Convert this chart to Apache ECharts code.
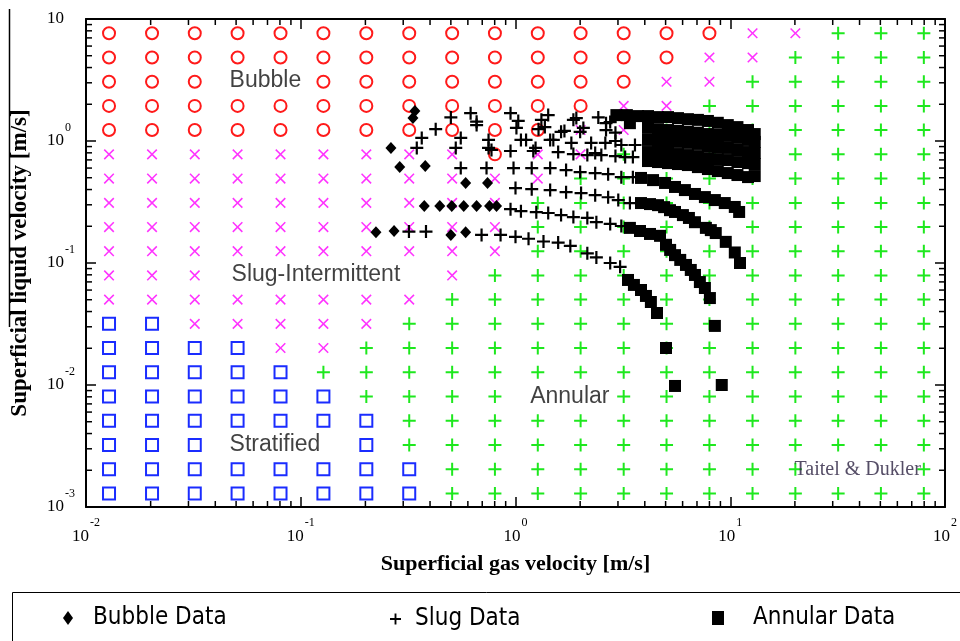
<!DOCTYPE html>
<html>
<head>
<meta charset="utf-8">
<title>Taitel &amp; Dukler flow regime map</title>
<script src="https://cdn.jsdelivr.net/npm/echarts@6/dist/echarts.min.js"></script>
<style>
  html, body { margin: 0; padding: 0; background: #fff; }
  #main { width: 960px; height: 641px; }
</style>
</head>
<body>
<div id="main"></div>
<script>
var chartDom = document.getElementById('main');
var myChart = echarts.init(chartDom);

// grid of the regime map (columns = gas velocity, rows = liquid velocity, top row first)
var gasVel = [0.0128, 0.0203, 0.0321, 0.0508, 0.0805, 0.1275, 0.202, 0.320, 0.507, 0.802,
              1.27, 2.01, 3.19, 5.05, 8.00, 12.7, 20.1, 31.8, 50.3, 79.7];
var liqVel = [7.64, 4.84, 3.06, 1.94, 1.23, 0.777, 0.492, 0.311, 0.197, 0.125,
              0.0791, 0.0501, 0.0317, 0.0201, 0.0127, 0.00804, 0.00509, 0.00322, 0.00204, 0.00129];
// O bubble, X slug-intermittent, + annular, S stratified, . hidden under a label
var regimeRows = [
  'OOOOOOOOOOOOOOOXX+++',
  'OOOOOOOOOOOOOOXX++++',
  'OOO..OOOOOOOOXX+++++',
  'OOOOOOOOOOOOXX++++++',
  'OOOOOOOOOOOXX+++++++',
  'XXXXXXXXXOXX++++++++',
  'XXXXXXXXXXX+++++++++',
  'XXXXXXXXXX++++++++++',
  'XXXXXXXXXX++++++++++',
  'XXXXXXXXXX++++++++++',
  'XXX.....X+++++++++++',
  'XXXXXXXX++++++++++++',
  'SSXXXXX+++++++++++++',
  'SSSSXX++++++++++++++',
  'SSSSS+++++++++++++++',
  'SSSSSS++++..++++++++',
  'SSSSSSS+++++++++++++',
  'SSS...S+++++++++++++',
  'SSSSSSSS+++++++++..+',
  'SSSSSSSS++++++++++++'
];

var bubbleData = [
  [0.340, 1.76], [0.333, 1.54], [0.263, 0.877], [0.289, 0.612], [0.380, 0.624],
  [0.586, 0.453], [0.741, 0.453], [0.376, 0.293], [0.444, 0.293], [0.505, 0.293],
  [0.574, 0.293], [0.659, 0.293], [0.757, 0.293], [0.816, 0.293], [0.224, 0.179],
  [0.272, 0.183], [0.500, 0.170], [0.586, 0.179]
];

var slugData = [
  [0.319, 0.181], [0.383, 0.181], [0.695, 0.170], [0.852, 0.170], [1.00, 0.164], [1.15, 0.158],
  [1.35, 0.150], [1.58, 0.147], [1.80, 0.138], [2.16, 0.120], [2.38, 0.111], [2.76, 0.100], [3.07, 0.093],
  [0.948, 0.276], [1.06, 0.266], [1.25, 0.261], [1.42, 0.257], [1.63, 0.247], [1.86, 0.238],
  [2.16, 0.234], [2.38, 0.216], [2.76, 0.209], [3.11, 0.201],
  [1.00, 0.411], [1.19, 0.403], [1.45, 0.396], [1.72, 0.381], [2.02, 0.374], [2.35, 0.360],
  [2.70, 0.346], [3.01, 0.328], [3.41, 0.310],
  [0.556, 0.600], [0.733, 0.600], [0.979, 0.600], [1.19, 0.600], [1.45, 0.600], [1.72, 0.578],
  [2.00, 0.556], [2.35, 0.545], [2.70, 0.535], [3.11, 0.505], [3.52, 0.505],
  [0.347, 0.877], [0.527, 0.877], [0.773, 0.844], [0.948, 0.828], [1.21, 0.828], [1.58, 0.812],
  [1.86, 0.782], [2.16, 0.767], [2.51, 0.767], [2.92, 0.752], [3.24, 0.738], [3.52, 0.738],
  [0.366, 1.06], [0.556, 1.06], [0.749, 1.02], [1.06, 1.02], [1.45, 1.02], [1.82, 0.965],
  [2.25, 0.965], [2.62, 0.965], [3.11, 0.927], [3.60, 0.927],
  [0.425, 1.25], [0.659, 1.35], [1.01, 1.28], [1.28, 1.25], [1.63, 1.19], [2.00, 1.19],
  [2.64, 1.23], [2.92, 1.17],
  [0.500, 1.56], [0.618, 1.69], [0.659, 1.44], [0.948, 1.69], [1.03, 1.46], [1.32, 1.49],
  [1.42, 1.63], [1.86, 1.49], [1.92, 1.54], [2.43, 1.56], [2.64, 1.40], [2.76, 1.43],
  [0.749, 0.877], [1.12, 1.02], [1.24, 0.877], [1.37, 1.30], [1.50, 1.02], [1.69, 1.21],
  [2.07, 1.28], [2.35, 0.797], [2.92, 1.00]
];

var annularData = [
  // lowest band
  [3.34, 0.0726], [3.56, 0.0661], [3.84, 0.0601], [4.05, 0.0537], [4.27, 0.0479], [4.56, 0.0389],
  // second band
  [3.41, 0.194], [3.80, 0.183], [4.23, 0.173], [4.71, 0.167], [5.02, 0.141], [5.25, 0.128],
  [5.53, 0.116], [5.85, 0.106], [6.22, 0.0964], [6.55, 0.0877], [6.85, 0.0798], [7.22, 0.0698],
  [7.62, 0.0624], [8.04, 0.0516],
  // third band
  [3.84, 0.310], [4.23, 0.304], [4.61, 0.298], [4.92, 0.287], [5.24, 0.271], [5.53, 0.262],
  [6.02, 0.247], [6.42, 0.234], [6.85, 0.216], [7.70, 0.194], [8.12, 0.186], [8.56, 0.176],
  [9.53, 0.149], [10.5, 0.122], [11.1, 0.100],
  // fourth band
  [3.84, 0.498], [4.37, 0.478], [4.97, 0.453], [5.53, 0.420], [6.15, 0.396], [6.85, 0.368],
  [7.62, 0.347], [8.48, 0.328], [9.43, 0.310], [10.5, 0.288], [11.0, 0.262],
  // dense upper cluster
  [2.95, 1.63], [3.30, 1.63], [3.41, 1.40],
  [3.72, 1.60], [4.14, 1.60], [4.61, 1.57], [5.13, 1.57], [5.71, 1.54], [6.35, 1.51], [7.07, 1.49],
  [7.87, 1.46], [8.75, 1.41], [9.74, 1.35], [10.8, 1.30], [12.1, 1.23], [13.0, 1.14],
  [4.14, 1.28], [4.61, 1.25], [5.13, 1.23], [5.71, 1.21], [6.35, 1.19], [7.07, 1.17],
  [7.87, 1.14], [8.75, 1.12], [9.74, 1.10], [10.8, 1.06], [12.1, 1.02], [13.0, 0.983],
  [4.14, 1.02], [4.61, 1.00], [5.13, 1.00], [5.71, 0.983], [6.35, 0.965], [7.07, 0.946],
  [7.87, 0.910], [8.75, 0.893], [9.74, 0.877], [10.8, 0.844], [12.1, 0.812], [13.0, 0.797],
  [4.14, 0.812], [4.61, 0.812], [5.13, 0.797], [5.71, 0.782], [6.35, 0.767], [7.07, 0.752],
  [7.87, 0.724], [8.75, 0.711], [9.74, 0.698], [10.8, 0.672], [12.1, 0.659], [13.0, 0.647],
  [4.14, 0.685], [4.61, 0.672], [5.13, 0.659], [5.71, 0.647], [6.35, 0.635], [7.07, 0.611],
  [7.87, 0.589], [8.75, 0.567], [9.74, 0.546], [10.8, 0.526], [12.1, 0.506], [13.0, 0.516],
  // scattered points below
  [8.48, 0.0305], [5.02, 0.0201], [5.53, 0.00982], [9.13, 0.0100]
];

var regionLabels = [
  ['Bubble', 0.0466, 3.10],
  ['Slug-Intermittent', 0.0476, 0.0798],
  ['Stratified', 0.0466, 0.00322],
  ['Annular', 1.17, 0.00798]
];
var creditLabel = ['Taitel & Dukler', 19.9, 0.00201];

var minorX = [0.02, 0.03, 0.04, 0.05, 0.06, 0.07, 0.08, 0.09,
              0.2, 0.3, 0.4, 0.5, 0.6, 0.7, 0.8, 0.9,
              2, 3, 4, 5, 6, 7, 8, 9,
              20, 30, 40, 50, 60, 70, 80, 90];
var minorY = [0.002, 0.003, 0.004, 0.005, 0.006, 0.007, 0.008, 0.009,
              0.02, 0.03, 0.04, 0.05, 0.06, 0.07, 0.08, 0.09,
              0.2, 0.3, 0.4, 0.5, 0.6, 0.7, 0.8, 0.9,
              2, 3, 4, 5, 6, 7, 8, 9];

var SERIF = "'Liberation Serif', 'DejaVu Serif', serif";
var SANS = "'Liberation Sans', Arial, sans-serif";
var NARROW = "'DejaVu Sans Condensed', 'Liberation Sans', sans-serif";

var plusPath = 'path://M-1,-6.5H1V-1H6.5V1H1V6.5H-1V1H-6.5V-1H-1Z';
var boldPlus = 'path://M-1.1,-6.5H1.1V-1.1H6.5V1.1H1.1V6.5H-1.1V1.1H-6.5V-1.1H-1.1Z';
var thinCross = 'path://M-0.8,-7H0.8V-0.8H7V0.8H0.8V7H-0.8V0.8H-7V-0.8H-0.8Z';

var regime = { O: [], X: [], '+': [], S: [] };
for (var r = 0; r < regimeRows.length; r++) {
  for (var c = 0; c < gasVel.length; c++) {
    var code = regimeRows[r].charAt(c);
    if (regime[code]) regime[code].push([gasVel[c], liqVel[r]]);
  }
}

var minorTicks = [];
for (var i = 0; i < minorX.length; i++) minorTicks.push([minorX[i], 1, 0]);
for (var j = 0; j < minorY.length; j++) minorTicks.push([1, minorY[j], 1]);

function powLabel(v, hideOne) {
  var e = Math.round(Math.log10(v));
  if (hideOne && e === 1) return '{b|10}';
  return '{b|10}{s|' + e + '}';
}
var powRich = {
  b: { fontFamily: SERIF, fontSize: 17, color: '#000', padding: [11, 0, 11, 0] },
  s: { fontFamily: SERIF, fontSize: 12, color: '#000', padding: [0, 0, 27, 1] }
};

function renderMinorTick(params, api) {
  var cs = params.coordSys;
  var len = 6;
  var st = { stroke: '#000', lineWidth: 1.5 };
  if (api.value(2) === 0) {
    var x = api.coord([api.value(0), 1])[0];
    return { type: 'group', children: [
      { type: 'line', shape: { x1: x, y1: cs.y + cs.height, x2: x, y2: cs.y + cs.height - len }, style: st },
      { type: 'line', shape: { x1: x, y1: cs.y, x2: x, y2: cs.y + len }, style: st }
    ] };
  }
  var y = api.coord([1, api.value(1)])[1];
  return { type: 'group', children: [
    { type: 'line', shape: { x1: cs.x, y1: y, x2: cs.x + len, y2: y }, style: st },
    { type: 'line', shape: { x1: cs.x + cs.width, y1: y, x2: cs.x + cs.width - len, y2: y }, style: st }
  ] };
}

var frameLine = { lineStyle: { color: '#000', width: 2 } };
var majorTick = { inside: true, length: 10, lineStyle: { color: '#000', width: 1.5 } };
var legendText = { fontFamily: NARROW, fontSize: 24, color: '#000' };

var option = {
  backgroundColor: '#fff',
  animation: false,
  grid: { left: 86, right: 12, top: 19, bottom: 134 },
  xAxis: [
    {
      type: 'log', min: 0.01, max: 100, position: 'bottom',
      axisLine: frameLine, axisTick: majorTick, splitLine: { show: false },
      axisLabel: { margin: 10, formatter: function (v) { return powLabel(v, false); }, rich: powRich },
      name: 'Superficial gas velocity [m/s]', nameLocation: 'middle', nameGap: 46,
      nameTextStyle: { fontFamily: SERIF, fontWeight: 'bold', fontSize: 22, color: '#000' }
    },
    {
      type: 'log', min: 0.01, max: 100, position: 'top',
      axisLine: frameLine, axisTick: majorTick, splitLine: { show: false },
      axisLabel: { show: false }
    }
  ],
  yAxis: [
    {
      type: 'log', min: 0.001, max: 10, position: 'left',
      axisLine: frameLine, axisTick: majorTick, splitLine: { show: false },
      axisLabel: { margin: 39, align: 'left', formatter: function (v) { return powLabel(v, true); }, rich: powRich },
      name: 'Superficial liquid velocity [m/s]', nameLocation: 'middle', nameGap: 54,
      nameTextStyle: { fontFamily: SERIF, fontWeight: 'bold', fontSize: 23, color: '#000' }
    },
    {
      type: 'log', min: 0.001, max: 10, position: 'right',
      axisLine: frameLine, axisTick: majorTick, splitLine: { show: false },
      axisLabel: { show: false }
    }
  ],
  legend: [
    {
      data: [{ name: 'Bubble Data', icon: 'diamond' }], left: 63, top: 606, padding: 0,
      itemWidth: 10, itemHeight: 14,
      textStyle: Object.assign({ padding: [0, 0, 0, 15] }, legendText)
    },
    {
      data: ['Slug Data'], left: 390, top: 607, padding: 0, itemWidth: 11, itemHeight: 11,
      textStyle: Object.assign({ padding: [0, 0, 0, 9] }, legendText)
    },
    {
      data: [{ name: 'Annular Data', icon: 'rect' }], left: 712, top: 606, padding: 0,
      itemWidth: 12, itemHeight: 14,
      textStyle: Object.assign({ padding: [0, 0, 0, 24] }, legendText)
    }
  ],
  graphic: [
    { type: 'rect', shape: { x: 12.5, y: 592.5, width: 960, height: 60 },
      style: { fill: 'none', stroke: '#000', lineWidth: 1 }, silent: true },
    { type: 'line', shape: { x1: 9.5, y1: 9, x2: 9.5, y2: 327 },
      style: { stroke: '#000', lineWidth: 1.5 }, silent: true }
  ],
  series: [
    {
      name: 'Bubble regime', type: 'scatter', data: regime.O, silent: true, z: 2,
      symbol: 'circle', symbolSize: 12,
      itemStyle: { color: 'rgba(0,0,0,0)', borderColor: '#ff1a1a', borderWidth: 2, opacity: 1 }
    },
    {
      name: 'Slug regime', type: 'scatter', data: regime.X, silent: true, z: 2,
      symbol: thinCross, symbolSize: 13.5, symbolRotate: 45,
      itemStyle: { color: '#ff33ff', opacity: 1 }
    },
    {
      name: 'Annular regime', type: 'scatter', data: regime['+'], silent: true, z: 2,
      symbol: plusPath, symbolSize: 13,
      itemStyle: { color: '#1ee81e', opacity: 1 }
    },
    {
      name: 'Stratified regime', type: 'scatter', data: regime.S, silent: true, z: 2,
      symbol: 'rect', symbolSize: 12,
      itemStyle: { color: 'rgba(0,0,0,0)', borderColor: '#1a2cff', borderWidth: 2, opacity: 1 }
    },
    {
      name: 'Bubble Data', type: 'scatter', data: bubbleData, z: 4,
      symbol: 'diamond', symbolSize: [11, 12], itemStyle: { color: '#000', opacity: 1 }
    },
    {
      name: 'Slug Data', type: 'scatter', data: slugData, z: 4,
      symbol: boldPlus, symbolSize: 13, itemStyle: { color: '#000', opacity: 1 }
    },
    {
      name: 'Annular Data', type: 'scatter', data: annularData, z: 4,
      symbol: 'rect', symbolSize: 12, itemStyle: { color: '#000', opacity: 1 }
    },
    {
      name: 'labels', type: 'scatter', silent: true, z: 5,
      symbolSize: 0.1, itemStyle: { color: 'rgba(0,0,0,0)' },
      data: regionLabels.map(function (l) {
        return { name: l[0], value: [l[1], l[2]] };
      }).concat([{
        name: creditLabel[0], value: [creditLabel[1], creditLabel[2]],
        label: { fontFamily: SERIF, fontSize: 20, color: '#2a2040' }
      }]),
      label: {
        show: true, position: 'right', distance: 0, formatter: '{b}',
        fontFamily: SANS, fontSize: 23, color: '#111'
      }
    },
    {
      name: 'minor ticks', type: 'custom', silent: true, z: 6,
      renderItem: renderMinorTick, data: minorTicks
    }
  ]
};

myChart.setOption(option);
window.addEventListener('resize', function () { myChart.resize(); });
</script>
</body>
</html>
